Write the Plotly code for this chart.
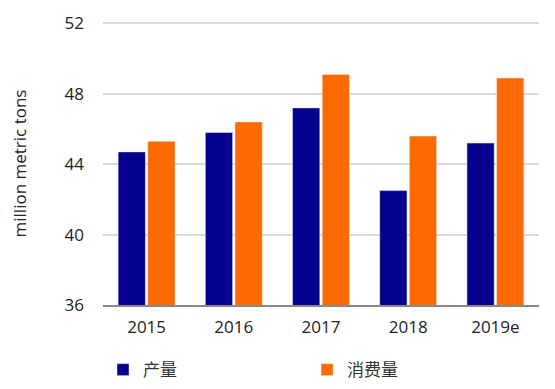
import plotly.graph_objects as go

years = ["2015", "2016", "2017", "2018", "2019e"]
production = [44.7, 45.8, 47.2, 42.5, 45.2]
consumption = [45.3, 46.4, 49.1, 45.6, 48.9]
y_ticks = [36, 40, 44, 48, 52]

font = "Open Sans, Noto Sans CJK SC, sans-serif"

fig = go.Figure()
fig.add_trace(go.Bar(x=years, y=production, name="产量", marker_color="#06008F",
                     legend="legend"))
fig.add_trace(go.Bar(x=years, y=consumption, name="消费量", marker_color="#FF6A00",
                     legend="legend2"))

leg_common = dict(orientation="h", yanchor="middle", y=-0.23, xanchor="left",
                  font=dict(family=font, size=17, color="#333333"), bgcolor="rgba(0,0,0,0)")

fig.update_layout(
    width=547, height=381,
    margin=dict(l=95, r=16, t=14, b=84, autoexpand=False),
    plot_bgcolor="white", paper_bgcolor="white",
    barmode="group", bargap=0.32, bargroupgap=0.08,
    font=dict(family=font, size=17, color="#222222"),
    showlegend=True,
    legend=dict(x=0.0, **leg_common),
    legend2=dict(x=0.468, **leg_common),
    yaxis=dict(range=[36, 52.08], tickvals=y_ticks, showgrid=True, gridcolor="#D9D9D9",
               gridwidth=2, zeroline=False, ticks="", ticklen=0, automargin=False,
               ticklabelstandoff=18,
               title=dict(text="million metric tons", font=dict(size=17), standoff=35)),
    xaxis=dict(showline=True, linecolor="#888888", linewidth=2, ticks="",
               automargin=False, ticklabelstandoff=6),
)
fig.write_html("out.html")
